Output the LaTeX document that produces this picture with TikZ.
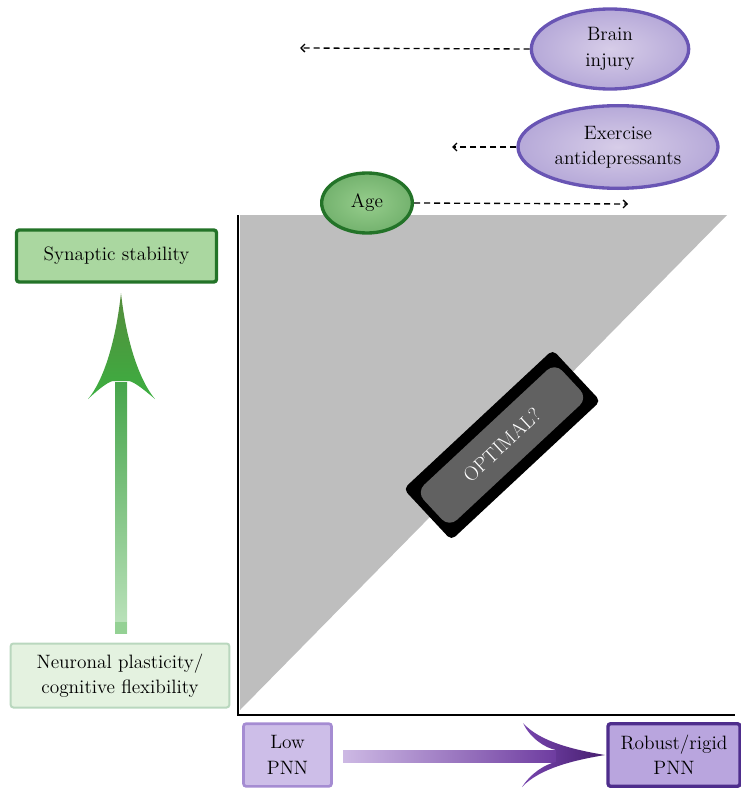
\documentclass[tikz,border=0pt]{standalone}
\usetikzlibrary{shapes.geometric,arrows.meta,calc}
\definecolor{triGray}{RGB}{190,190,190}
\definecolor{purBorder}{RGB}{105,85,180}
\definecolor{purFill}{RGB}{215,205,232}
\definecolor{grnBorder}{RGB}{35,115,40}
\definecolor{grnFill}{RGB}{150,205,140}
\definecolor{synFill}{RGB}{170,215,160}
\definecolor{neuFill}{RGB}{228,242,224}
\definecolor{neuBorder}{RGB}{185,215,190}
\definecolor{lowFill}{RGB}{205,190,232}
\definecolor{lowBorder}{RGB}{165,140,210}
\definecolor{robFill}{RGB}{185,165,222}
\definecolor{robBorder}{RGB}{78,45,140}
\tikzset{
  txt/.style={font=\fontsize{14.5}{19}\selectfont, align=center, text=black},
  purell/.style={ellipse, draw=purBorder, line width=2.5pt, inner color=purFill, outer color=purFill!70!purBorder, inner sep=0pt, txt},
  grnell/.style={ellipse, draw=grnBorder, line width=2.5pt, inner color=grnFill, outer color=grnFill!70!grnBorder, inner sep=0pt, txt},
  dashline/.style={dash pattern=on 4.5pt off 3pt, line width=1pt, -{Straight Barb[length=3pt,width=6pt]}},
  boxnode/.style={rectangle, rounded corners=2pt, inner sep=0pt, txt},
}
\begin{document}
\begin{tikzpicture}[x=0.75pt,y=-0.75pt]
\useasboundingbox (0,0) rectangle (741,788);
% triangle and axes
\fill[triGray] (240,215) -- (727,215) -- (240,710) -- cycle;
\draw[line width=1pt] (238,215) -- (238,715) -- (735,715);

% ellipses
\node[purell, minimum width=118pt, minimum height=60pt] (bi) at (610,49) {Brain\\injury};
\node[purell, minimum width=150pt, minimum height=62pt] (ex) at (618,147) {Exercise\\antidepressants};
\node[grnell, minimum width=68pt, minimum height=45pt] (age) at (367,203) {Age};
\coordinate (biEnd) at (300,48);
\coordinate (exEnd) at (452,147);
\coordinate (ageEnd) at (628,204);
\draw[dashline] (bi.west) -- (biEnd);
\draw[dashline] (ex.west) -- (exEnd);
\draw[dashline] (age.east) -- (ageEnd);

% left boxes
\node[boxnode, draw=grnBorder, line width=2.5pt, fill=synFill, minimum width=150pt, minimum height=39pt] (syn) at (116.5,256) {Synaptic stability};
\node[boxnode, draw=neuBorder, line width=1.5pt, fill=neuFill, minimum width=164pt, minimum height=48pt] (neu) at (120,675.5) {Neuronal plasticity/\\cognitive flexibility};

% green arrow
\shade[top color={rgb,255:red,70;green,165;blue,75}, bottom color={rgb,255:red,190;green,228;blue,190}]
  (115,382) -- (115,633) -- (127,633) -- (127,382) -- cycle;
\fill[gray!60!green!60] (115,622) rectangle (127,634);
\shade[top color={rgb,255:red,85;green,140;blue,60}, bottom color={rgb,255:red,60;green,175;blue,65}]
  (121,293) .. controls (116,340) and (104,380) .. (88,399)
  .. controls (100,388) and (110,380) .. (115,381)
  -- (127,381) .. controls (132,380) and (142,388) .. (155,399)
  .. controls (139,380) and (126,340) .. (121,293) -- cycle;

% bottom boxes
\node[boxnode, draw=lowBorder, line width=2pt, fill=lowFill, minimum width=66pt, minimum height=47pt] (low) at (287.5,755) {Low\\PNN};
\node[boxnode, draw=robBorder, line width=2.5pt, fill=robFill, minimum width=99pt, minimum height=47pt] (rob) at (674,755) {Robust/rigid\\PNN};

% purple arrow
\shade[left color={rgb,255:red,205;green,185;blue,228}, right color={rgb,255:red,110;green,60;blue,160}]
  (343,750) -- (556,750) -- (556,762) -- (343,762) -- cycle;
\shade[left color={rgb,255:red,120;green,70;blue,175}, right color={rgb,255:red,70;green,30;blue,110}]
  (605,755) .. controls (575,750) and (540,742) .. (523,723)
  .. controls (530,738) and (545,748) .. (556,750)
  -- (556,762) .. controls (545,764) and (530,774) .. (522,787)
  .. controls (540,768) and (575,760) .. (605,755) -- cycle;

% OPTIMAL box
\coordinate (optc) at (502,445);
\fill[black, rounded corners=4pt, rotate around={43:(optc)}] ($(optc)+(-102,-35)$) rectangle ($(optc)+(102,35)$);
\node[rectangle, rotate=43, fill=black!62, rounded corners=8pt, minimum width=142pt, minimum height=36pt, inner sep=0pt,
  font=\fontsize{15}{17}\selectfont, text=white] (opt) at (optc) {OPTIMAL?};
\end{tikzpicture}
\end{document}
